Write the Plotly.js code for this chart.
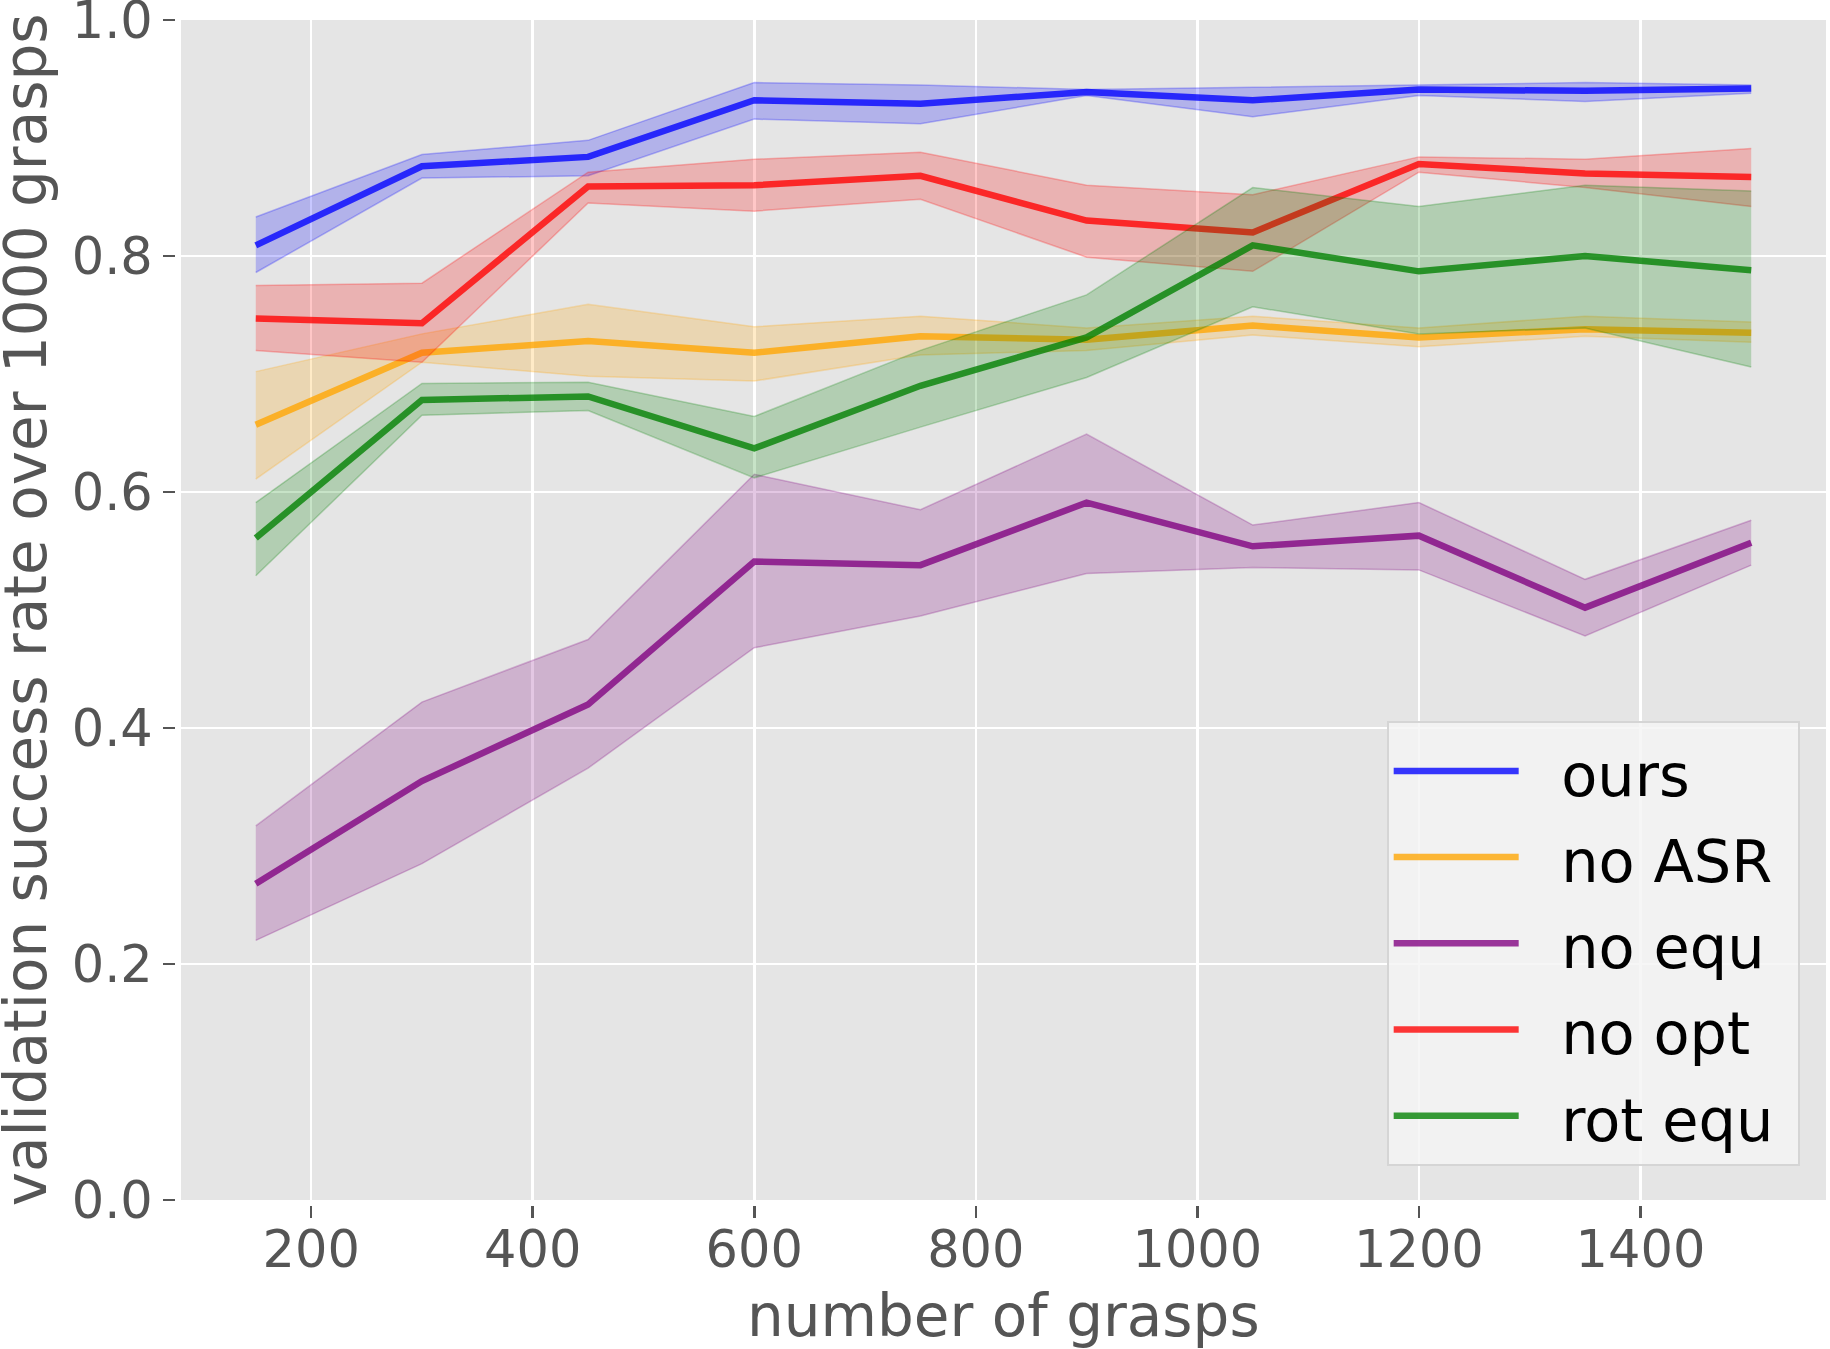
<!DOCTYPE html>
<html>
<head>
<meta charset="utf-8">
<script src="https://cdn.plot.ly/plotly-3.0.1.min.js"></script>
<style>html,body{margin:0;padding:0;background:#fff;}#chart{width:1830px;height:1349px;}</style>
</head>
<body>
<div id="chart"></div>
<script>
const grasps = [150, 300, 450, 600, 750, 900, 1050, 1200, 1350, 1500];

const oursMean  = [0.809, 0.876, 0.884, 0.932, 0.929, 0.939, 0.932, 0.941, 0.940, 0.942];
const oursUpper = [0.833, 0.886, 0.898, 0.947, 0.945, 0.941, 0.943, 0.945, 0.947, 0.945];
const oursLower = [0.786, 0.866, 0.868, 0.916, 0.912, 0.936, 0.918, 0.936, 0.931, 0.938];

const noAsrMean  = [0.657, 0.718, 0.728, 0.718, 0.732, 0.729, 0.741, 0.731, 0.738, 0.735];
const noAsrUpper = [0.702, 0.734, 0.759, 0.740, 0.749, 0.739, 0.749, 0.739, 0.749, 0.744];
const noAsrLower = [0.611, 0.710, 0.698, 0.694, 0.716, 0.720, 0.733, 0.723, 0.732, 0.727];

const noEquMean  = [0.268, 0.355, 0.420, 0.541, 0.538, 0.591, 0.554, 0.563, 0.502, 0.557];
const noEquUpper = [0.317, 0.422, 0.475, 0.615, 0.585, 0.649, 0.572, 0.591, 0.526, 0.576];
const noEquLower = [0.220, 0.285, 0.366, 0.468, 0.495, 0.531, 0.536, 0.534, 0.478, 0.538];

const noOptMean  = [0.747, 0.743, 0.859, 0.860, 0.868, 0.830, 0.820, 0.878, 0.870, 0.867];
const noOptUpper = [0.775, 0.777, 0.871, 0.882, 0.888, 0.860, 0.852, 0.884, 0.882, 0.891];
const noOptLower = [0.720, 0.710, 0.845, 0.838, 0.848, 0.799, 0.787, 0.871, 0.858, 0.842];

const rotEquMean  = [0.561, 0.678, 0.681, 0.637, 0.690, 0.731, 0.809, 0.787, 0.800, 0.788];
const rotEquUpper = [0.591, 0.692, 0.693, 0.664, 0.720, 0.767, 0.858, 0.842, 0.860, 0.855];
const rotEquLower = [0.529, 0.665, 0.669, 0.612, 0.655, 0.697, 0.757, 0.734, 0.739, 0.706];

const seriesNames = ["ours", "no ASR", "no equ", "no opt", "rot equ"];
const seriesRGB = ["0,0,255", "255,165,0", "128,0,128", "255,0,0", "0,128,0"];
const means = [oursMean, noAsrMean, noEquMean, noOptMean, rotEquMean];
const uppers = [oursUpper, noAsrUpper, noEquUpper, noOptUpper, rotEquUpper];
const lowers = [oursLower, noAsrLower, noEquLower, noOptLower, rotEquLower];

const xTickVals = [200, 400, 600, 800, 1000, 1200, 1400];
const xTickText = ["200", "400", "600", "800", "1000", "1200", "1400"];
const yTickVals = [0, 0.2, 0.4, 0.6, 0.8, 1.0];
const yTickText = ["0.0", "0.2", "0.4", "0.6", "0.8", "1.0"];
const xTitle = "number of grasps";
const yTitle = "validation success rate over 1000 grasps";

const traces = [];
for (let i = 0; i < seriesNames.length; i++) {
  const rgb = seriesRGB[i];
  traces.push({
    x: grasps, y: lowers[i], type: "scatter", mode: "lines",
    line: {color: "rgba(" + rgb + ",0.25)", width: 1.5},
    showlegend: false, hoverinfo: "skip"
  });
  traces.push({
    x: grasps, y: uppers[i], type: "scatter", mode: "lines",
    line: {color: "rgba(" + rgb + ",0.25)", width: 1.5},
    fill: "tonexty", fillcolor: "rgba(" + rgb + ",0.22)",
    showlegend: false, hoverinfo: "skip"
  });
  traces.push({
    x: grasps, y: means[i], type: "scatter", mode: "lines",
    name: '<span style="font-size:59px">&nbsp;&nbsp;' + seriesNames[i] + '&nbsp;</span>',
    line: {color: "rgba(" + rgb + ",0.78)", width: 6.5}
  });
}

const tickFont = {family: "DejaVu Sans", size: 51, color: "#555555"};
const titleFont = {family: "DejaVu Sans", size: 58, color: "#555555"};
const layout = {
  width: 1830, height: 1349,
  margin: {l: 181, r: 4, t: 20, b: 149},
  paper_bgcolor: "#ffffff",
  plot_bgcolor: "#e5e5e5",
  showlegend: true,
  xaxis: {
    range: [82.5, 1567.5],
    tickmode: "array", tickvals: xTickVals, ticktext: xTickText,
    showgrid: true, gridcolor: "#ffffff", gridwidth: 2.5,
    zeroline: false,
    showline: true, linecolor: "#ffffff", linewidth: 6,
    ticks: "outside", ticklen: 12, tickwidth: 2.5, tickcolor: "#555555",
    tickfont: tickFont, ticklabeloverflow: "allow", ticklabelstandoff: -12
  },
  yaxis: {
    range: [0, 1.0],
    tickmode: "array", tickvals: yTickVals, ticktext: yTickText,
    showgrid: true, gridcolor: "#ffffff", gridwidth: 2.5,
    zeroline: false,
    showline: true, linecolor: "#ffffff", linewidth: 6,
    ticks: "outside", ticklen: 12, tickwidth: 2.5, tickcolor: "#555555",
    tickfont: tickFont, ticklabeloverflow: "allow"
  },
  annotations: [
    {text: xTitle, xref: "paper", yref: "paper", x: 0.5, y: -0.0985,
     xanchor: "center", yanchor: "middle", showarrow: false, font: titleFont},
    {text: yTitle, xref: "paper", yref: "paper", x: -0.094, y: 0.5,
     xanchor: "center", yanchor: "middle", textangle: -90, showarrow: false, font: titleFont}
  ],
  legend: {
    x: 0.984, y: 0.029, xanchor: "right", yanchor: "bottom",
    traceorder: "normal",
    bgcolor: "rgba(245,245,245,0.85)", bordercolor: "#d5d5d5", borderwidth: 2,
    font: {family: "DejaVu Sans", size: 64, color: "#000000"},
    itemwidth: 125
  }
};

Plotly.newPlot("chart", traces, layout, {displayModeBar: false, staticPlot: true});
</script>
</body>
</html>
